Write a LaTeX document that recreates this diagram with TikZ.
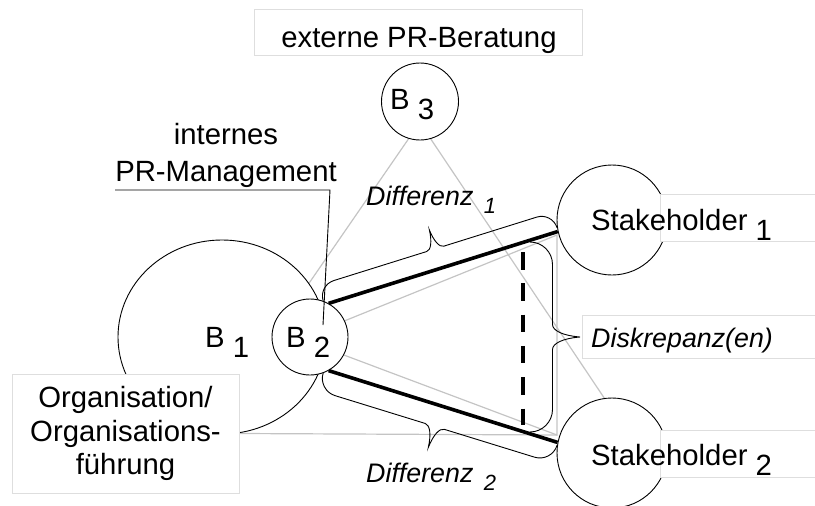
\documentclass[tikz,border=0pt]{standalone}
\usepackage{fontspec}
\setmainfont{Liberation Sans}
\usetikzlibrary{shapes.geometric, decorations.pathreplacing, backgrounds}
\definecolor{framegray}{RGB}{222,222,222}
\definecolor{linegray}{RGB}{196,196,196}
\newcommand{\sbs}[1]{\raisebox{-0.36em}{#1}}
\newcommand{\difsub}[1]{\kern3pt{\fontsize{22}{26}\selectfont\raisebox{-8pt}{#1}}}

% geschweifte Klammer mit kurzen Ecken und spitzer Mitte
\pgfdeclaredecoration{wordbrace}{brace}{%
  \state{brace}[width=+\pgfdecoratedremainingdistance, next state=final]{%
    \pgfmathsetmacro{\wbA}{\pgfdecorationsegmentamplitude}%
    \pgfmathsetmacro{\wbL}{\pgfdecoratedremainingdistance}%
    \pgfmathsetmacro{\wbM}{\pgfdecorationsegmentaspect*\wbL}%
    \pgfmathsetmacro{\wbH}{0.45*\wbA}%
    \pgfmathsetmacro{\wbC}{0.45*\wbA}%
    \pgfmathsetmacro{\wbT}{0.25*\wbA}%
    \pgfpathmoveto{\pgfpointorigin}%
    \pgfpathcurveto{\pgfpoint{0}{0.55*\wbH}}{\pgfpoint{0.45*\wbC}{\wbH}}{\pgfpoint{\wbC}{\wbH}}%
    \pgfpathlineto{\pgfpoint{\wbM-\wbT}{\wbH}}%
    \pgfpathcurveto{\pgfpoint{\wbM-0.5*\wbT}{\wbH}}{\pgfpoint{\wbM-0.1*\wbT}{\wbH+0.4*(\wbA-\wbH)}}{\pgfpoint{\wbM}{\wbA}}%
    \pgfpathcurveto{\pgfpoint{\wbM+0.1*\wbT}{\wbH+0.4*(\wbA-\wbH)}}{\pgfpoint{\wbM+0.5*\wbT}{\wbH}}{\pgfpoint{\wbM+\wbT}{\wbH}}%
    \pgfpathlineto{\pgfpoint{\wbL-\wbC}{\wbH}}%
    \pgfpathcurveto{\pgfpoint{\wbL-0.45*\wbC}{\wbH}}{\pgfpoint{\wbL}{0.55*\wbH}}{\pgfpoint{\wbL}{0}}%
  }%
  \state{final}{\pgfpathmoveto{\pgfpointdecoratedpathlast}}%
}

\tikzset{
  bubble/.style   = {circle, draw=black, line width=0.9pt, fill=white, inner sep=0pt},
  orgblob/.style  = {ellipse, draw=black, line width=0.9pt, fill=white, inner sep=0pt},
  lblbox/.style   = {rectangle, draw=framegray, line width=0.9pt, fill=white, inner sep=0pt},
  txt/.style      = {font=\fontsize{29.3}{34}\selectfont, inner sep=0pt},
  diftxt/.style   = {font=\fontsize{26.8}{30}\selectfont\itshape, inner sep=0pt},
  guide/.style    = {linegray, line width=1.2pt},
  link/.style     = {black, line width=3.6pt},
  leader/.style   = {black, line width=0.9pt},
  bracebig/.style = {decorate, decoration={wordbrace, amplitude=#1, aspect=0.5}, line width=0.9pt},
  bracebig/.default = 36,
  gapline/.style  = {black, line width=4pt, dash pattern=on 17.5pt off 13.8pt},
}

\begin{document}
\begin{tikzpicture}[x=1pt, y=-1pt]
\useasboundingbox (0,0) rectangle (815,506);
\clip (0,0) rectangle (815,506);

% ---------- Kreise ----------
\node[orgblob, minimum width=208pt, minimum height=194pt] (B1) at (222,337) {};
\node[lblbox, minimum width=227pt, minimum height=119pt, align=center,
      font=\fontsize{29.3}{33.5}\selectfont] (Org) at (125.5,433.5)
      {Organisation/\\Organisations-\\führung};
\node[bubble, minimum size=76pt]  (B2) at (310,337) {};
\node[bubble, minimum size=77pt]  (B3) at (420,101.5) {};
\node[bubble, minimum size=110pt] (S1) at (612,220) {};
\node[bubble, minimum size=110pt] (S2) at (612,453) {};

% ---------- Textrahmen ----------
\node[lblbox, minimum width=328pt, minimum height=46pt, anchor=north west] (Extbox) at (254,9) {};
\node[lblbox, minimum width=180pt, minimum height=47pt, anchor=north west] (S1box) at (660,194) {};
\node[lblbox, minimum width=180pt, minimum height=47pt, anchor=north west] (S2box) at (660,430) {};
\node[lblbox, minimum width=250pt, minimum height=43pt, anchor=north west] (Dbox) at (582,315) {};

% ---------- Hilfspunkte ----------
\coordinate (dtop) at (557,235);
\coordinate (dbot) at (557,435);
\coordinate (dk1) at (530,242);
\coordinate (dk2) at (530,432);
\coordinate (g1) at (523,252);
\coordinate (g2) at (523,425);
\coordinate (ldK) at (330,190);
\coordinate (ldE) at (323,325);

% ---------- graue Linien ----------
\begin{scope}[on background layer]
  \draw[guide] (B3.-107) -- (B2.110);
  \draw[guide] (B3.-74) -- (S2.98);
  \draw[guide] (B2.25) -- (dtop) -- (dbot) -- (B2.-28);
  \draw[guide] (Org.east) -- (dbot);
\end{scope}

% ---------- Differenzen ----------
\draw[link] (B2.61) -- (S1.192);
\draw[link] (B2.-61) -- (S2.169);
\draw[bracebig=36] (B2.70) -- (S1.188);
\draw[bracebig=40, decoration={mirror}] (B2.-70) -- (S2.172);
\draw[bracebig=50] (dk1) -- (dk2);
\draw[gapline] (g1) -- (g2);

% ---------- Beschriftungen ----------
\node[txt, anchor=base] (ExtTxt) at (419,47) {externe PR-Beratung};
\node[txt, anchor=base west] (B3txt) at (390,109) {B \sbs{3}};
\node[txt, anchor=base west] (B1txt) at (205,347) {B \sbs{1}};
\node[txt, anchor=base west] (B2txt) at (286,347) {B \sbs{2}};
\node[txt, anchor=base west] (S1txt) at (591,230) {Stakeholder \sbs{1}};
\node[txt, anchor=base west] (S2txt) at (591,465) {Stakeholder \sbs{2}};
\node[diftxt, anchor=base west] (Dtxt) at (591,347) {Diskrepanz(en)};
\node[diftxt, anchor=base west] (Dif1) at (366,205) {Differenz \difsub{1}};
\node[diftxt, anchor=base west] (Dif2) at (366,482) {Differenz \difsub{2}};
\node[txt, align=center, anchor=south, font=\fontsize{29.3}{37}\selectfont] (IntPR) at (226,188)
     {internes\\PR-Management};
\draw[leader] (IntPR.south west |- ldK) -- (ldK) -- (ldE);

\end{tikzpicture}
\end{document}
